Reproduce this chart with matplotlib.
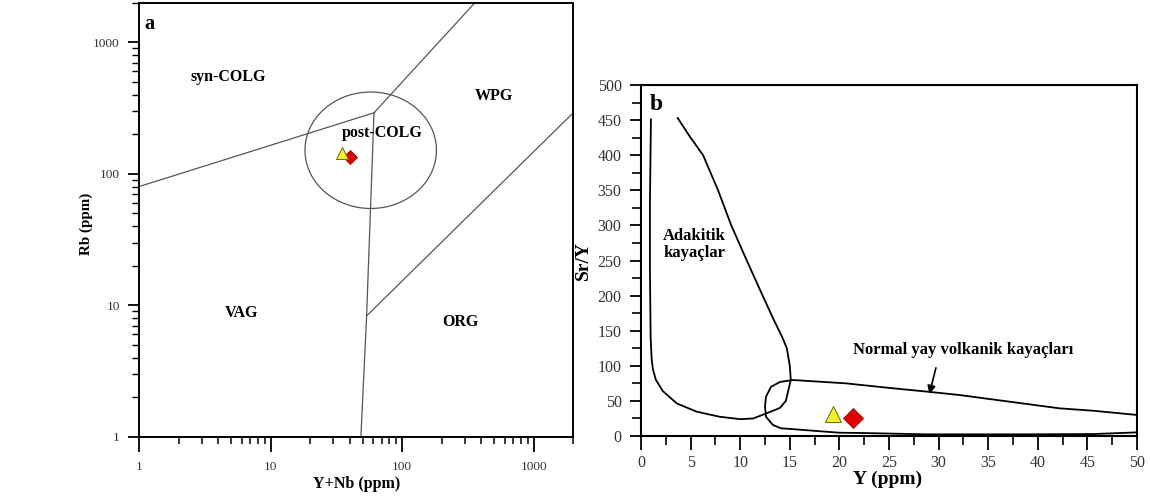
import numpy as np
import matplotlib
matplotlib.use('Agg')
import matplotlib.pyplot as plt
from matplotlib.ticker import MultipleLocator, LogLocator, FuncFormatter, NullFormatter

plt.rcParams['font.family'] = ['Liberation Serif', 'DejaVu Serif']

# ---------------- a) Rb vs Y+Nb boundaries -----------------
syn_vag_x = [1, 61]
syn_vag_y = [80, 291]
syn_wpg_x = [61, 357]
syn_wpg_y = [291, 2000]
vag_org_x = [61, 53.6, 48.5]
vag_org_y = [291, 8.3, 1]
wpg_org_x = [53.6, 2000]
wpg_org_y = [8.3, 291]

# post-COLG field (centre and half-widths in log decades)
circ_center = (57.6, 151)
circ_rad = (0.50, 0.443)

# sample points
tri_a = (34.6, 144)
dia_a = (40, 135)

fields_a = ['syn-COLG', 'WPG', 'post-COLG', 'VAG', 'ORG']
fields_a_x = [4.75, 500, 70, 6.0, 275]
fields_a_y = [541, 392, 206, 8.7, 7.4]

# ---------------- b) Sr/Y vs Y -----------------
adak_x = [1.0, 0.9, 0.9, 0.97, 1.07, 1.2, 1.5, 2.2, 3.6, 5.6, 7.9, 10.0, 11.3, 12.6, 14.0,
          14.6, 15.1, 15.0, 14.7, 14.2, 13.4, 12.1, 10.6, 9.1, 7.77, 6.26, 4.9, 3.7]
adak_y = [451, 331, 236, 141, 110, 95, 80, 64, 46.5, 34.7, 27.5, 24, 25, 32, 40,
          50, 80, 100, 125, 142, 165, 205, 252, 300, 350, 400, 427, 453]

norm_x = [50, 45.6, 42.2, 37.1, 32.1, 29.0, 25.4, 22.0, 20.7, 18.0, 15.3, 14.0, 13.1,
          12.6, 12.5, 12.6, 13.3, 14.1, 15.6, 17.3, 20.0, 22.3, 28.7, 38.8, 45.6, 50]
norm_y = [30, 36, 39.4, 49, 58.4, 63, 68, 73, 75, 77.4, 79.8, 77, 70,
          56, 42, 27.5, 15.7, 11, 9.5, 7.6, 4.7, 4.3, 2.4, 2.4, 2.8, 5.2]

tri_b = (19.4, 31)
dia_b = (21.4, 25)

fig = plt.figure(figsize=(11.5, 4.97), dpi=100)

##----------------------------------------- a -----------------------------------------
ax1 = fig.add_axes([0.1211, 0.1213, 0.3774, 0.8732])
ax1.set_xscale('log')
ax1.set_yscale('log')
ax1.set_xlim(1, 2000)
ax1.set_ylim(1, 2000)

lc = '#555555'
for xs, ys in [(syn_vag_x, syn_vag_y), (syn_wpg_x, syn_wpg_y),
               (vag_org_x, vag_org_y), (wpg_org_x, wpg_org_y)]:
    ax1.plot(xs, ys, color=lc, lw=0.9)

t = np.linspace(0, 2 * np.pi, 200)
cx = 10 ** (np.log10(circ_center[0]) + circ_rad[0] * np.cos(t))
cy = 10 ** (np.log10(circ_center[1]) + circ_rad[1] * np.sin(t))
ax1.plot(cx, cy, color=lc, lw=0.9)

ax1.plot(*dia_a, marker='D', ms=7, color='#e00000', mec='#990000', mew=0.6, ls='none', zorder=5)
ax1.plot(*tri_a, marker='^', ms=9, color='#f2f030', mec='#6a6a00', mew=0.7, ls='none', zorder=6)

for name, x, y in zip(fields_a, fields_a_x, fields_a_y):
    ax1.text(x, y, name, ha='center', va='center', fontsize=11.5, fontweight='bold')
ax1.text(1.1, 1375, 'a', ha='left', va='center', fontsize=14.5, fontweight='bold')

fmt = FuncFormatter(lambda v, p: f'{v:g}')
ax1.xaxis.set_major_locator(LogLocator(base=10, numticks=10))
ax1.yaxis.set_major_locator(LogLocator(base=10, numticks=10))
ax1.xaxis.set_minor_locator(LogLocator(base=10, subs=np.arange(2, 10), numticks=20))
ax1.yaxis.set_minor_locator(LogLocator(base=10, subs=np.arange(2, 10), numticks=20))
ax1.xaxis.set_major_formatter(fmt)
ax1.yaxis.set_major_formatter(fmt)
ax1.xaxis.set_minor_formatter(NullFormatter())
ax1.yaxis.set_minor_formatter(NullFormatter())
ax1.tick_params(axis='x', which='major', direction='out', length=10.8, width=1.3, pad=7,
                labelsize=9.6, labelcolor='#333333')
ax1.tick_params(axis='x', which='minor', direction='out', length=5, width=1.1)
ax1.tick_params(axis='y', which='major', direction='out', length=8, width=1.3, pad=6,
                labelsize=9.6, labelcolor='#333333')
ax1.tick_params(axis='y', which='minor', direction='out', length=5, width=1.0)
for s in ax1.spines.values():
    s.set_linewidth(1.4)

ax1.set_xlabel('Y+Nb (ppm)', fontsize=11.5, fontweight='bold')
ax1.set_ylabel('Rb (ppm)', fontsize=10.8, fontweight='bold')
ax1.xaxis.set_label_coords(0.501, -0.0905)
ax1.yaxis.set_label_coords(-0.106, 0.49)

##----------------------------------------- b -----------------------------------------
ax2 = fig.add_axes([0.5574, 0.1227, 0.4313, 0.7062])
ax2.set_xlim(0, 50)
ax2.set_ylim(0, 500)

ax2.plot(adak_x, adak_y, color='black', lw=1.3)
ax2.plot(norm_x, norm_y, color='black', lw=1.3)

ax2.plot(*dia_b, marker='D', ms=10, color='#e00000', mec='#990000', mew=0.6, ls='none', zorder=5)
ax2.plot(*tri_b, marker='^', ms=12, color='#f2f030', mec='#6a6a00', mew=0.7, ls='none', zorder=6)

ax2.text(5.36, 273, 'Adakitik\nkayaçlar', ha='center', va='center', fontsize=12,
         fontweight='bold', linespacing=1.1)
ax2.text(32.5, 122.5, 'Normal yay volkanik kayaçları', ha='center', va='center',
         fontsize=12, fontweight='bold')
ax2.annotate('', xy=(29.0, 56), xytext=(29.8, 101),
             arrowprops=dict(arrowstyle='-|>', color='black', lw=1.2, mutation_scale=12))
ax2.text(0.85, 472, 'b', ha='left', va='center', fontsize=17, fontweight='bold')

ax2.xaxis.set_major_locator(MultipleLocator(5))
ax2.xaxis.set_minor_locator(MultipleLocator(2.5))
ax2.yaxis.set_major_locator(MultipleLocator(50))
ax2.yaxis.set_minor_locator(MultipleLocator(25))
ax2.tick_params(axis='x', which='major', direction='out', length=10, width=1.3, pad=4,
                labelsize=11.5, labelcolor='#333333')
ax2.tick_params(axis='x', which='minor', direction='out', length=6.5, width=1.2)
ax2.tick_params(axis='y', which='major', direction='out', length=8, width=1.3, pad=6,
                labelsize=11.5, labelcolor='#333333')
ax2.tick_params(axis='y', which='minor', direction='out', length=6.7, width=1.2)
for s in ax2.spines.values():
    s.set_linewidth(1.5)

ax2.set_xlabel('Y (ppm)', fontsize=14, fontweight='bold')
ax2.set_ylabel('Sr/Y', fontsize=14, fontweight='bold')
ax2.xaxis.set_label_coords(0.498, -0.098)
ax2.yaxis.set_label_coords(-0.099, 0.5)

fig.savefig('out.png', dpi=100)
